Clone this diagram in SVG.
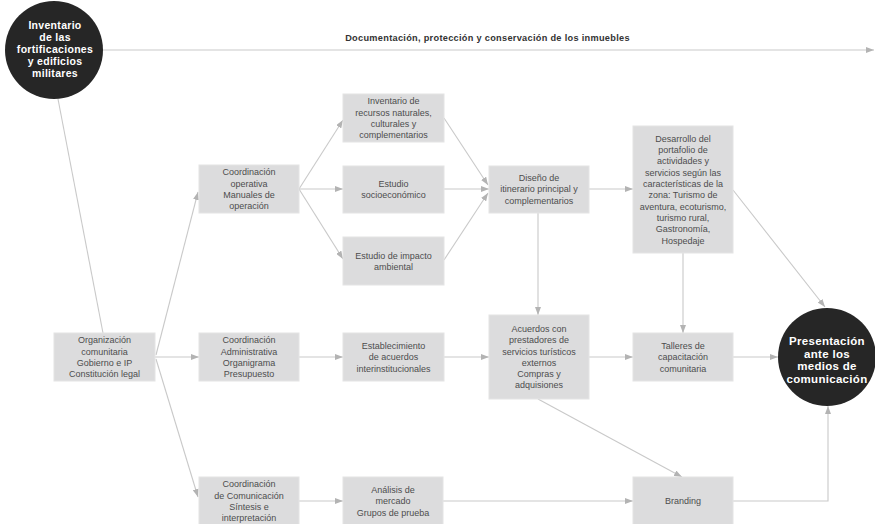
<svg xmlns="http://www.w3.org/2000/svg" width="875" height="524" viewBox="0 0 875 524">
<defs>
<marker id="arr" markerUnits="userSpaceOnUse" markerWidth="8" markerHeight="6" refX="8" refY="3" orient="auto">
<path d="M0,0 L8,3 L0,6 z" fill="#b3b3b3"/>
</marker>
<style>
.box{fill:#dcdcdd;stroke:#e4e4e4;stroke-width:1}
.t{font-family:"Liberation Sans",Arial,sans-serif;font-size:9px;fill:#4d4d4d;text-anchor:middle}
.c{fill:#262626}
.ct{font-family:"Liberation Sans",Arial,sans-serif;font-weight:bold;fill:#ffffff;text-anchor:middle}
.ln{fill:none;stroke:#c9c9c9;stroke-width:1.1}
.ar{marker-end:url(#arr)}
.title{font-family:"Liberation Sans",Arial,sans-serif;font-weight:bold;font-size:9.2px;letter-spacing:0.3px;fill:#333;text-anchor:middle}
</style>
</defs>
<rect width="875" height="524" fill="#ffffff"/>

<g id="connectors">
<path class="ln ar" d="M103,50 L874,50"/>
<path class="ln" d="M58,99 L103,333"/>
<path class="ln ar" d="M156,355 L198,192"/>
<path class="ln ar" d="M155,357 L199,357"/>
<path class="ln ar" d="M156,359 L198,497"/>
<path class="ln ar" d="M299,189 L343,120"/>
<path class="ln ar" d="M299,189 L343,189"/>
<path class="ln ar" d="M299,189 L343,259"/>
<path class="ln ar" d="M444,118 L488,185"/>
<path class="ln ar" d="M444,189 L489,189"/>
<path class="ln ar" d="M444,260 L488,193"/>
<path class="ln ar" d="M589,189 L633,189"/>
<path class="ln ar" d="M538,213 L538,315"/>
<path class="ln ar" d="M733,190 L825,307"/>
<path class="ln ar" d="M683,253 L683,333"/>
<path class="ln ar" d="M299,357 L343,357"/>
<path class="ln ar" d="M444,357 L489,357"/>
<path class="ln ar" d="M589,357 L633,357"/>
<path class="ln ar" d="M733,357 L778,357"/>
<path class="ln ar" d="M538,399 L682,477"/>
<path class="ln ar" d="M299,501 L343,501"/>
<path class="ln ar" d="M443,501 L633,501"/>
<path class="ln ar" d="M733,501 L828,501 L828,406"/>
</g>

<text class="title" x="487.5" y="40.5">Documentación, protección y conservación de los inmuebles</text>

<g id="inventario-fortificaciones">
<circle class="c" cx="54" cy="50" r="49"/>
<text class="ct" font-size="10.5" letter-spacing="0.3" y="28.5">
<tspan x="55">Inventario</tspan><tspan x="55" dy="12">de las</tspan><tspan x="55" dy="12">fortificaciones</tspan><tspan x="55" dy="12">y edificios</tspan><tspan x="55" dy="12">militares</tspan>
</text>
</g>

<g id="organizacion">
<rect class="box" x="54" y="333" width="101" height="48"/>
<text class="t" y="343.25"><tspan x="104.5">Organización</tspan><tspan x="104.5" dy="11.3">comunitaria</tspan><tspan x="104.5" dy="11.3">Gobierno e IP</tspan><tspan x="104.5" dy="11.3">Constitución legal</tspan></text>
</g>

<g id="coord-operativa">
<rect class="box" x="199" y="165" width="100" height="48"/>
<text class="t" y="175.25"><tspan x="249">Coordinación</tspan><tspan x="249" dy="11.3">operativa</tspan><tspan x="249" dy="11.3">Manuales de</tspan><tspan x="249" dy="11.3">operación</tspan></text>
</g>

<g id="coord-administrativa">
<rect class="box" x="199" y="333" width="100" height="48"/>
<text class="t" y="343.25"><tspan x="249">Coordinación</tspan><tspan x="249" dy="11.3">Administrativa</tspan><tspan x="249" dy="11.3">Organigrama</tspan><tspan x="249" dy="11.3">Presupuesto</tspan></text>
</g>

<g id="coord-comunicacion">
<rect class="box" x="199" y="477" width="100" height="50"/>
<text class="t" y="487.25"><tspan x="249">Coordinación</tspan><tspan x="249" dy="11.3">de Comunicación</tspan><tspan x="249" dy="11.3">Síntesis e</tspan><tspan x="249" dy="11.3">interpretación</tspan></text>
</g>

<g id="inventario-recursos">
<rect class="box" x="343" y="94" width="101" height="48"/>
<text class="t" y="104.25"><tspan x="393.5">Inventario de</tspan><tspan x="393.5" dy="11.3">recursos naturales,</tspan><tspan x="393.5" dy="11.3">culturales y</tspan><tspan x="393.5" dy="11.3">complementarios</tspan></text>
</g>

<g id="estudio-socioeconomico">
<rect class="box" x="343" y="166" width="101" height="47"/>
<text class="t" y="186.55"><tspan x="393.5">Estudio</tspan><tspan x="393.5" dy="11.3">socioeconómico</tspan></text>
</g>

<g id="estudio-impacto">
<rect class="box" x="343" y="237" width="101" height="48"/>
<text class="t" y="258.55"><tspan x="393.5">Estudio de impacto</tspan><tspan x="393.5" dy="11.3">ambiental</tspan></text>
</g>

<g id="establecimiento">
<rect class="box" x="343" y="333" width="101" height="48"/>
<text class="t" y="348.9"><tspan x="393.5">Establecimiento</tspan><tspan x="393.5" dy="11.3">de acuerdos</tspan><tspan x="393.5" dy="11.3">interinstitucionales</tspan></text>
</g>

<g id="analisis-mercado">
<rect class="box" x="343" y="477" width="100" height="50"/>
<text class="t" y="492.9"><tspan x="393">Análisis de</tspan><tspan x="393" dy="11.3">mercado</tspan><tspan x="393" dy="11.3">Grupos de prueba</tspan></text>
</g>

<g id="diseno-itinerario">
<rect class="box" x="489" y="166" width="100" height="47"/>
<text class="t" y="180.9"><tspan x="539">Diseño de</tspan><tspan x="539" dy="11.3">itinerario principal y</tspan><tspan x="539" dy="11.3">complementarios</tspan></text>
</g>

<g id="acuerdos-prestadores">
<rect class="box" x="489" y="315" width="100" height="84"/>
<text class="t" y="331.95"><tspan x="539">Acuerdos con</tspan><tspan x="539" dy="11.3">prestadores de</tspan><tspan x="539" dy="11.3">servicios turísticos</tspan><tspan x="539" dy="11.3">externos</tspan><tspan x="539" dy="11.3">Compras y</tspan><tspan x="539" dy="11.3">adquisiones</tspan></text>
</g>

<g id="desarrollo-portafolio">
<rect class="box" x="633" y="126" width="100" height="127"/>
<text class="t" y="141.85"><tspan x="683">Desarrollo del</tspan><tspan x="683" dy="11.3">portafolio de</tspan><tspan x="683" dy="11.3">actividades y</tspan><tspan x="683" dy="11.3">servicios según las</tspan><tspan x="683" dy="11.3">características de la</tspan><tspan x="683" dy="11.3">zona: Turismo de</tspan><tspan x="683" dy="11.3">aventura, ecoturismo,</tspan><tspan x="683" dy="11.3">turismo rural,</tspan><tspan x="683" dy="11.3">Gastronomía,</tspan><tspan x="683" dy="11.3">Hospedaje</tspan></text>
</g>

<g id="talleres">
<rect class="box" x="633" y="333" width="100" height="48"/>
<text class="t" y="348.9"><tspan x="683">Talleres de</tspan><tspan x="683" dy="11.3">capacitación</tspan><tspan x="683" dy="11.3">comunitaria</tspan></text>
</g>

<g id="branding">
<rect class="box" x="633" y="477" width="100" height="50"/>
<text class="t" x="683" y="504.2">Branding</text>
</g>

<g id="presentacion-medios">
<circle class="c" cx="827" cy="357" r="49"/>
<text class="ct" font-size="11.5" letter-spacing="0.3" y="344.7"><tspan x="827">Presentación</tspan><tspan x="827" dy="12.8">ante los</tspan><tspan x="827" dy="12.8">medios de</tspan><tspan x="827" dy="12.8">comunicación</tspan></text>
</g>
</svg>
